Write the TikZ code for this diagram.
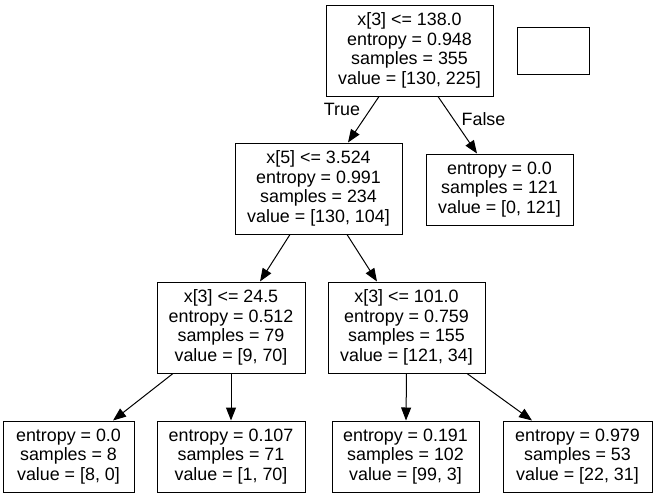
\documentclass[tikz,border=0pt]{standalone}
\usepackage{fontspec}
\setmainfont{Liberation Sans}
\usetikzlibrary{arrows.meta}

\begin{document}
\begin{tikzpicture}[x = 0.75pt, y = -0.75pt,
	box/.style = {draw, line width = 0.75pt, align = center, inner sep = 0pt,
		font = \fontsize{13.4}{14.8}\selectfont},
	split/.style = {box, minimum height = 68.25pt},
	leaf/.style = {box, minimum height = 53.25pt},
	edge/.style = {line width = 0.75pt, -{Triangle[length = 9.75pt, width = 7.5pt]}},
	lbl/.style = {inner sep = 0pt, font = \fontsize{13.4}{14.8}\selectfont}]
\useasboundingbox (0, 0) rectangle (657, 497);
\node[split, minimum width = 125.25pt] (root) at (409.5, 50.5)
	{x[3] <= 138.0\\entropy = 0.948\\samples = 355\\value = [130, 225]};
\node[box, minimum width = 54pt, minimum height = 35.25pt] (blank) at (553, 50.5) {};
\node[split, minimum width = 125.25pt] (nleft) at (318.5, 188.5)
	{x[5] <= 3.524\\entropy = 0.991\\samples = 234\\value = [130, 104]};
\node[leaf, minimum width = 110.25pt] (nright) at (499.5, 189.5)
	{entropy = 0.0\\samples = 121\\value = [0, 121]};
\node[split, minimum width = 111pt] (nll) at (231, 327.5)
	{x[3] <= 24.5\\entropy = 0.512\\samples = 79\\value = [9, 70]};
\node[split, minimum width = 117.75pt] (nlr) at (406.5, 327.5)
	{x[3] <= 101.0\\entropy = 0.759\\samples = 155\\value = [121, 34]};
\node[leaf, minimum width = 98.25pt] (lllw) at (68.5, 456.5)
	{entropy = 0.0\\samples = 8\\value = [8, 0]};
\node[leaf, minimum width = 111pt] (llrw) at (231, 456.5)
	{entropy = 0.107\\samples = 71\\value = [1, 70]};
\node[leaf, minimum width = 110.25pt] (lrlw) at (405.5, 456.5)
	{entropy = 0.191\\samples = 102\\value = [99, 3]};
\node[leaf, minimum width = 111.75pt] (lrrw) at (577.5, 456.5)
	{entropy = 0.979\\samples = 53\\value = [22, 31]};
\draw[edge] ([shift = {(-30.5, 0)}]root.south) -- ([shift = {(29.5, 0)}]nleft.north);
\draw[edge] ([shift = {(28.5, 0)}]root.south) -- ([shift = {(-22.5, 0)}]nright.north);
\draw[edge] ([shift = {(-28.5, 0)}]nleft.south) -- ([shift = {(29, 0)}]nll.north);
\draw[edge] ([shift = {(28.5, 0)}]nleft.south) -- ([shift = {(-29.5, 0)}]nlr.north);
\draw[edge] ([shift = {(-58, 0)}]nll.south) -- ([shift = {(44.5, 0)}]lllw.north);
\draw[edge] (nll.south) -- (llrw.north);
\draw[edge] (nlr.south) -- ([shift = {(0.5, 0)}]lrlw.north);
\draw[edge] ([shift = {(60.5, 0)}]nlr.south) -- ([shift = {(-45.5, 0)}]lrrw.north);
\node[lbl] (lbltrue) at (342, 109) {True};
\node[lbl] (lblfalse) at (483.5, 119.5) {False};
\end{tikzpicture}
\end{document}
